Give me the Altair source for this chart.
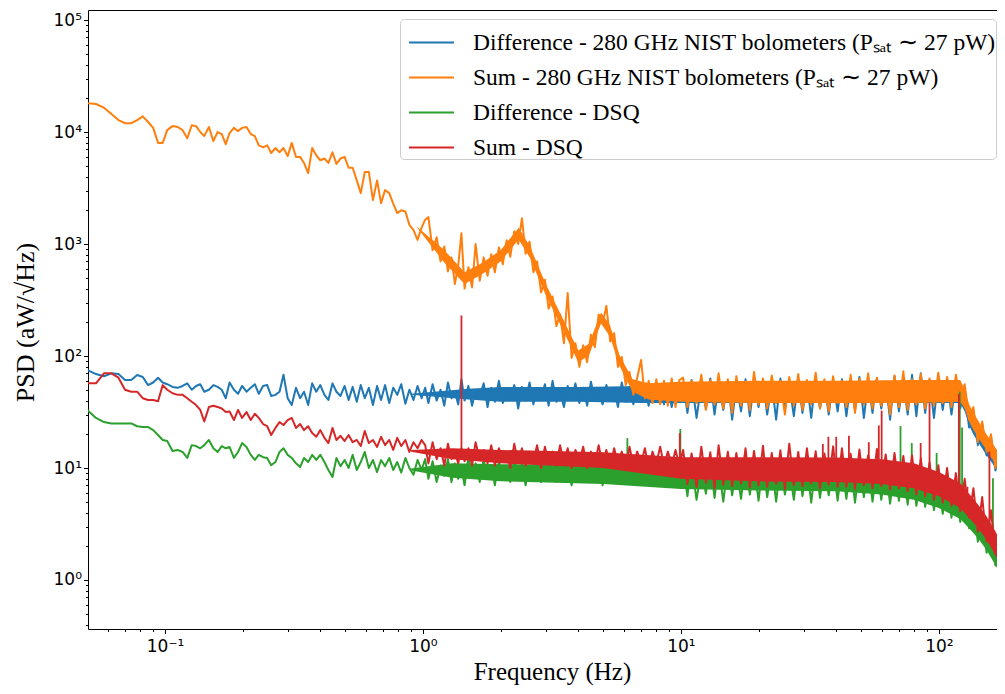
import altair as alt
import pandas as pd

SERIES = [
    "Difference - 280 GHz NIST bolometers (Pₛₐₜ ∼ 27 pW)",
    "Sum - 280 GHz NIST bolometers (Pₛₐₜ ∼ 27 pW)",
    "Difference - DSQ",
    "Sum - DSQ",
]
COLORS = ["#1f77b4", "#ff7f0e", "#2ca02c", "#d62728"]

# ---- frequency grid (Hz) ----
FREQ_LOW = [0.050, 0.054, 0.058, 0.062, 0.066, 0.070, 0.074, 0.078, 0.082, 0.086,
            0.090, 0.094, 0.098, 0.102, 0.107, 0.112, 0.117, 0.122, 0.127, 0.132,
            0.137, 0.142, 0.148, 0.154, 0.160, 0.166, 0.172, 0.178, 0.185, 0.192,
            0.199, 0.207, 0.215, 0.223, 0.231, 0.240, 0.249, 0.258, 0.268, 0.278,
            0.288, 0.299, 0.310, 0.322, 0.334, 0.346, 0.359, 0.372, 0.386, 0.400,
            0.415, 0.430, 0.446, 0.462, 0.479, 0.497, 0.515, 0.534, 0.554, 0.574,
            0.595, 0.617, 0.640, 0.664, 0.688, 0.713, 0.740, 0.767, 0.795, 0.824,
            0.855, 0.886, 0.919, 0.953, 0.988]
FREQ_MID = [1.02, 1.05, 1.09, 1.13, 1.17, 1.21, 1.25, 1.29, 1.33, 1.37,
            1.41, 1.45, 1.50, 1.55, 1.60, 1.66, 1.72, 1.78, 1.84, 1.90,
            1.97, 2.04, 2.11, 2.18, 2.26, 2.34, 2.42, 2.50, 2.59, 2.68,
            2.77, 2.87, 2.97, 3.07, 3.18, 3.29, 3.40, 3.52, 3.64, 3.77,
            3.90, 4.04, 4.18, 4.33, 4.48, 4.64, 4.80, 4.97, 5.14, 5.32,
            5.51, 5.70, 5.90, 6.11, 6.32, 6.54, 6.77, 7.01, 7.25, 7.50,
            7.76, 8.03, 8.31, 8.60, 8.90, 9.21, 9.53, 9.86]
FREQ_HIGH = [10.2, 10.6, 11.0, 11.5, 12.0, 12.5, 13.0, 13.5, 14.0, 14.6, 15.2, 15.8,
             16.4, 17.1, 17.8, 18.5, 19.2, 20.0,
             20.8, 21.6, 22.5, 23.4, 24.3, 25.3, 26.3, 27.4, 28.5, 29.6, 30.8, 32.0,
             33.3, 34.6, 36.0, 37.4, 38.9, 40.5,
             42.1, 43.8, 45.5, 47.3, 49.2, 51.2, 53.2, 55.3, 57.5, 59.8, 62.2, 64.7,
             67.3, 70.0, 72.8, 75.7, 78.7, 81.8,
             85.1, 88.5, 92.0, 95.7, 99.5, 103.5, 107.6, 111.9, 116.4, 121.0,
             125.9, 130.9, 136.1, 141.6, 147.2, 153.1, 159.2, 165.6, 172.2, 179.1]

# ---- Difference - NIST (blue) ----
DIFF_NIST_LOW = [75, 69, 66, 70, 69, 61, 61, 67.6, 65, 55,
                 58, 64, 58, 56, 53, 52, 54, 57, 50, 54,
                 56, 48, 50, 55, 53, 50, 42, 58, 50, 46,
                 54, 48, 52, 56, 46, 54, 55, 44, 45, 48,
                 68, 42, 36.5, 52, 42, 48, 36.5, 57, 48, 55,
                 45, 40.5, 57, 48, 44, 54, 40.5, 53, 39, 55,
                 42, 52, 36.5, 54, 40.5, 55, 38, 52, 45, 56,
                 37.5, 50, 40.5, 54, 42]
DIFF_NIST_MID = [52, 38, 56, 40, 50, 36, 58, 42, 48, 37,
                 62, 40, 54, 36, 50, 44, 57, 35, 52, 39,
                 60, 38, 49, 41, 55, 34, 53, 40, 58, 37,
                 51, 43, 56, 36, 60, 39, 48, 35, 54, 41,
                 57, 38, 52, 36, 59, 40, 47, 37, 55, 42,
                 51, 35, 58, 39, 53, 37, 56, 41, 50, 36,
                 54, 39, 52, 37, 56, 35, 50, 40]
DIFF_NIST_HIGH = [58, 31, 61, 28, 56, 34, 63, 30, 57, 33, 60, 27, 55, 32, 62, 29, 58, 35,
                  60, 30, 57, 27, 63, 33, 56, 29, 61, 31, 58, 28, 64, 34, 57, 30, 60, 32,
                  62, 29, 57, 33, 65, 28, 59, 31, 63, 34, 58, 27, 66, 32, 60, 30, 68, 29,
                  70, 31, 61, 28, 64, 33, 62, 30, 60, 34,
                  52, 23, 33, 16, 25, 13, 19, 9.5, 14, 7]

# ---- Sum - NIST (orange) ----
SUM_NIST_LOW = [18100, 17800, 16500, 14500, 12800, 12000, 12000, 12800, 13800, 12300,
                10900, 8000, 8000, 10400, 11300, 11100, 10400, 8800, 11500, 11300,
                10000, 9200, 11100, 8300, 10000, 9600, 7800, 9800, 10900, 10200,
                10900, 11100, 9600, 9200, 7600, 7300, 7600, 6500, 7200, 6600,
                7200, 6100, 8000, 5980, 6000, 5300, 4300, 7200, 6200, 5600,
                5800, 5300, 6600, 5200, 5800, 6000, 4800, 4800, 3700, 2850,
                4400, 4400, 2470, 3700, 2320, 3030, 2850, 2300, 1890, 2000,
                1950, 1480, 1330, 1090, 1400]
SUM_NIST_MID = [1650, 1740, 880, 1150, 700, 950, 570, 760, 440, 640,
                1250, 400, 620, 410, 1000, 470, 760, 520, 810, 560,
                930, 660, 1080, 770, 1300, 1000, 1700, 820, 1050, 560,
                700, 370, 480, 265, 340, 185, 235, 130, 365, 96,
                130, 80, 125, 88, 155, 120, 235, 195, 280, 135,
                160, 80, 98, 55, 72, 45, 64, 92, 42, 60,
                38, 62, 37, 60, 36, 63, 35, 61]
SUM_NIST_HIGH = [64, 35, 60, 38, 68, 33, 61, 37, 70, 34, 62, 31, 66, 36, 59, 33, 72, 37,
                 63, 34, 67, 38, 60, 30, 65, 36, 69, 33, 61, 37, 71, 34, 62, 32, 66, 38,
                 60, 35, 68, 31, 63, 37, 70, 34, 64, 36, 59, 30, 67, 35, 73, 33, 62, 37,
                 69, 34, 63, 36, 71, 38, 65, 35, 68, 39,
                 56, 27, 35, 17, 26, 14, 20, 10, 15, 7.5]

# ---- Difference - DSQ (green) ----
DIFF_DSQ_LOW = [33, 28, 25.7, 25, 25, 25, 25, 23.6, 23.2, 23.2,
                21.8, 19.7, 17.8, 17.4, 14.2, 14.5, 13.9, 12.3, 16, 15.7,
                15, 16, 17.8, 15, 13.9, 15.7, 15, 15.4, 12.3, 13.9,
                16.7, 15.4, 13.1, 11.8, 13.1, 12.5, 12.3, 10.6, 11.3, 13.9,
                15, 13.1, 12.3, 11, 10.2, 12.3, 11.3, 13.1, 11.8, 13.1,
                11.3, 9.6, 8.3, 12.3, 10.4, 11.8, 10, 13.1, 9.6, 11.3,
                13.9, 10, 11.8, 9.2, 11.8, 10.4, 12.3, 9.6, 11.3, 9.1,
                12.3, 10, 8.7, 11.8, 9.6]
DIFF_DSQ_MID = [12, 8, 11.5, 7.5, 10.5, 8.5, 12, 7.5, 11, 8,
                10, 7, 12.5, 8.5, 11, 7.5, 12, 8, 10.5, 7,
                11.5, 8.5, 10, 7.5, 12, 8, 11, 7, 10.5, 8.5,
                12, 7.5, 11, 8, 10.5, 7.5, 11.5, 8, 10, 7,
                12, 8.5, 11, 7.5, 10.5, 8, 11.5, 7, 10.5, 8,
                11, 7.5, 10, 7.5, 11.5, 7.5, 11, 8, 10.5, 7,
                11.5, 8, 10, 7.5, 11, 8, 10.5, 7.5]
DIFF_DSQ_HIGH = [10.5, 5.6, 11, 5.2, 10, 5.9, 11.5, 5.4, 10.4, 5, 10.8, 5.7, 10.2, 5.3, 11.2, 5.8, 10.6, 5.1,
                 11, 5.5, 10.3, 5, 10.9, 5.8, 10.1, 5.2, 11.3, 5.6, 10.5, 4.9, 10.8, 5.4, 10.2, 5.7, 11, 5.1,
                 10.4, 5.3, 10.8, 4.9, 10.1, 5.5, 10.6, 5, 9.9, 5.2, 10.2, 4.8, 9.8, 5.1, 9.5, 4.7, 9.6, 4.6,
                 9, 4.5, 8.6, 4.2, 8.2, 3.9, 7.6, 3.6, 7, 3.3,
                 6, 2.9, 4.8, 2.2, 3.9, 1.75, 2.9, 1.35, 2, 0.85]

# ---- Sum - DSQ (red) ----
SUM_DSQ_LOW = [57, 57, 70, 70, 64, 50, 48, 48, 42, 40.5,
               40.5, 39.5, 55, 50, 46.5, 45, 45, 42, 39, 36.5,
               33, 26, 35, 36, 35, 34, 31.6, 32, 26.8, 33,
               28, 31.6, 26.8, 30.5, 28, 24.7, 23.6, 19.7, 22.8, 25.7,
               24.2, 26.8, 28, 22.8, 24.7, 21.8, 23.6, 20.5, 19, 21.8,
               18.6, 16.7, 22.8, 17.8, 19.4, 17.4, 19.7, 17, 17.8, 15.7,
               21.4, 16.7, 17.8, 15.4, 19, 16, 17.8, 14.5, 18.6, 15.7,
               17.8, 13.9, 17, 15, 17.8]
SUM_DSQ_MID = [16, 11, 17, 12, 15, 10.5, 16.5, 12, 14, 11,
               15, 11.5, 15, 10.5, 17, 12, 14.5, 11, 16, 10.5,
               15, 12, 14, 10, 16.5, 11, 15, 10.5, 14, 11.5,
               16, 10, 15.5, 11, 14, 10.5, 16, 11, 15, 10,
               14.5, 11.5, 15.5, 10, 14, 11, 16, 10.5, 14.5, 10,
               15, 11, 14, 10, 15.5, 10.5, 14, 11, 15, 10,
               14, 11, 15.5, 10.5, 14, 10.5, 14.5, 10.5]
SUM_DSQ_HIGH = [14.5, 7.2, 13.5, 6.8, 15.5, 7.4, 13.8, 6.6, 16, 7.1, 14, 6.9, 13.6, 7.3, 15, 6.7, 14.2, 7,
                15.8, 6.8, 13.6, 7.2, 14.4, 6.5, 16.5, 7, 13.9, 6.9, 15, 7.3, 14.1, 6.6, 13.5, 7.1, 15.6, 6.8,
                15, 6.8, 13.4, 6.5, 14.6, 7, 13, 6.6, 14.8, 6.9, 13.2, 6.4, 13.6, 6.6, 12.8, 6.2, 13, 5.8,
                12.2, 5.6, 11.2, 5.2, 10.6, 4.9, 10, 4.6, 9, 4.1,
                8, 3.6, 6.6, 2.7, 5.5, 2.2, 4.2, 1.7, 3, 1.0]

# ---- dense-noise cores (lower / upper envelope) ----
BAND_BLUE_F = [0.9, 1.5, 2.0, 4.0, 7.0, 10, 20, 40, 80, 121, 126, 131, 136, 142, 147, 153, 159, 166, 172]
BAND_BLUE_LO = [45, 41, 39, 39, 38, 38, 38, 38, 38, 38, 32, 24, 20, 17, 15, 13, 11.5, 10, 9]
BAND_BLUE_HI = [46, 51, 53, 53, 54, 57, 58, 58, 59, 59, 48, 35, 30, 25.5, 22, 19, 17, 15, 13]
BAND_ORANGE_F = [0.95, 1.2, 1.45, 1.7, 2.0, 2.35, 2.6, 3.0, 3.5, 4.0, 4.4, 4.9, 5.3, 5.8, 6.5, 7.5,
                 10, 20, 40, 80, 121, 126, 131, 136, 142, 147, 153, 159, 166, 172]
BAND_ORANGE_LO = [1400, 700, 440, 540, 700, 1100, 750, 345, 168, 88, 101, 195, 150, 80, 48, 41,
                  39, 38, 38, 38, 39, 34, 26, 22, 19, 16.5, 14.5, 12.5, 11, 9.5]
BAND_ORANGE_HI = [1420, 900, 560, 680, 880, 1400, 950, 435, 212, 112, 129, 245, 190, 100, 62, 57,
                  59, 60, 60, 61, 61, 50, 37, 31, 26.5, 23, 20, 17.5, 15, 13.5]
BAND_GREEN_F = [0.9, 1.3, 2.0, 5.0, 10, 20, 40, 60, 80, 100, 121, 131, 142, 153, 166, 179]
BAND_GREEN_LO = [9.5, 8.2, 7.6, 7.2, 6.5, 6.3, 6.2, 5.8, 5.2, 4.4, 3.5, 2.9, 2.35, 1.85, 1.35, 0.95]
BAND_GREEN_HI = [9.9, 11, 10.8, 10.6, 10, 10, 10, 9.4, 8.5, 7.4, 5.8, 4.7, 3.8, 3, 2.1, 1.5]
BAND_RED_F = [0.9, 1.3, 2.0, 5.0, 10, 20, 40, 60, 80, 100, 121, 131, 142, 153, 166, 179]
BAND_RED_LO = [14, 12, 11, 10, 8, 7.6, 7.5, 7.2, 6.6, 5.6, 4.4, 3.6, 2.9, 2.3, 1.65, 1.15]
BAND_RED_HI = [14.5, 15, 14.5, 13.8, 12.5, 12.5, 12.4, 12, 11, 9.2, 7.3, 5.9, 4.7, 3.7, 2.7, 1.9]

# ---- narrow spectral lines ----
SPIKE_GREEN_F = [6.2, 9.95, 51.0, 71.0, 78.5, 98.0, 120.5, 123.0, 162.0]
SPIKE_GREEN_BASE = [9, 9, 8.5, 7.5, 7, 5.8, 4.5, 4.3, 1.7]
SPIKE_GREEN_TOP = [18.5, 22.3, 12, 23.7, 16.7, 13.6, 48, 23, 8.1]
SPIKE_RED_F = [1.41, 9.9, 35.5, 37.3, 40.0, 44.8, 53.5, 58.5, 60.0, 85.0, 92.0, 119.5, 129.0, 157.0]
SPIKE_RED_BASE = [12, 11, 10.5, 10.5, 10.5, 10.5, 10, 10, 9.8, 8, 7.5, 5.5, 4.5, 2.5]
SPIKE_RED_TOP = [230, 20.5, 16.4, 19, 19, 19.4, 17, 24, 32.5, 16.7, 38, 46, 6.8, 14]

X_TICKS = [0.06, 0.07, 0.08, 0.09, 0.1, 0.2, 0.3, 0.4, 0.5, 0.6, 0.7, 0.8, 0.9,
           1, 2, 3, 4, 5, 6, 7, 8, 9, 10, 20, 30, 40, 50, 60, 70, 80, 90, 100]
Y_TICKS = [0.4, 0.5, 0.6, 0.7, 0.8, 0.9, 1, 2, 3, 4, 5, 6, 7, 8, 9,
           10, 20, 30, 40, 50, 60, 70, 80, 90,
           100, 200, 300, 400, 500, 600, 700, 800, 900,
           1000, 2000, 3000, 4000, 5000, 6000, 7000, 8000, 9000,
           10000, 20000, 30000, 40000, 50000, 60000, 70000, 80000, 90000, 100000]
X_DOMAIN = [0.0503, 168]
Y_DOMAIN = [0.365, 123000]

FREQ = FREQ_LOW + FREQ_MID + FREQ_HIGH
LINES = [
    DIFF_NIST_LOW + DIFF_NIST_MID + DIFF_NIST_HIGH,
    SUM_NIST_LOW + SUM_NIST_MID + SUM_NIST_HIGH,
    DIFF_DSQ_LOW + DIFF_DSQ_MID + DIFF_DSQ_HIGH,
    SUM_DSQ_LOW + SUM_DSQ_MID + SUM_DSQ_HIGH,
]
BANDS = [
    (BAND_BLUE_F, BAND_BLUE_LO, BAND_BLUE_HI),
    (BAND_ORANGE_F, BAND_ORANGE_LO, BAND_ORANGE_HI),
    (BAND_GREEN_F, BAND_GREEN_LO, BAND_GREEN_HI),
    (BAND_RED_F, BAND_RED_LO, BAND_RED_HI),
]
SPIKES = [None, None,
          (SPIKE_GREEN_F, SPIKE_GREEN_BASE, SPIKE_GREEN_TOP),
          (SPIKE_RED_F, SPIKE_RED_BASE, SPIKE_RED_TOP)]

xs = alt.Scale(type="log", domain=X_DOMAIN, nice=False, zero=False)
ys = alt.Scale(type="log", domain=Y_DOMAIN, nice=False, zero=False)

x_label = ("datum.value == 0.1 ? '10⁻¹' : datum.value == 1 ? '10⁰' : "
           "datum.value == 10 ? '10¹' : datum.value == 100 ? '10²' : ''")
y_label = ("datum.value == 1 ? '10⁰' : datum.value == 10 ? '10¹' : "
           "datum.value == 100 ? '10²' : datum.value == 1000 ? '10³' : "
           "datum.value == 10000 ? '10⁴' : datum.value == 100000 ? '10⁵' : ''")

x_axis = alt.Axis(
    values=X_TICKS, labelExpr=x_label, grid=False,
    tickSize={"condition": {"test": "indexof([0.1, 1, 10, 100], datum.value) >= 0", "value": 4.5}, "value": 2.5},
    tickColor="black", tickWidth=1, domainColor="black", domainWidth=1,
    labelFont="DejaVu Sans", labelFontSize=17, labelColor="black", labelPadding=5,
    labelFlush=False, labelOverlap=False, labelBound=False,
    titleFont="Liberation Serif", titleFontSize=25, titleFontWeight="normal", titleColor="black",
    titleX=464, titleY=42, titleBaseline="middle", titleAlign="center",
)
y_axis = alt.Axis(
    values=Y_TICKS, labelExpr=y_label, grid=False,
    tickSize={"condition": {"test": "indexof([1, 10, 100, 1000, 10000, 100000], datum.value) >= 0", "value": 4.5}, "value": 2.5},
    tickColor="black", tickWidth=1, domainColor="black", domainWidth=1,
    labelFont="DejaVu Sans", labelFontSize=17, labelColor="black", labelPadding=2,
    labelFlush=False, labelOverlap=False, labelBound=False,
    titleFont="Liberation Serif", titleFontSize=26, titleFontWeight="normal", titleColor="black",
    titleX=-63, titleY=312, titleBaseline="middle", titleAlign="center", titleAngle=-90,
)

legend = alt.Legend(
    title=None, orient="none", legendX=312, legendY=9, symbolType="stroke", symbolSize=2025,
    symbolStrokeWidth=2, symbolOffset=8, labelFont="Liberation Serif", labelFontSize=23.5,
    labelColor="black", labelLimit=800, labelOffset=18, rowPadding=-4.3, padding=0,
    fillColor="rgba(255,255,255,0.8)", strokeColor="#cccccc", cornerRadius=4,
)


def X(field="f"):
    return alt.X(f"{field}:Q", scale=xs, axis=x_axis, title="Frequency (Hz)")


def Y(field):
    return alt.Y(f"{field}:Q", scale=ys, axis=y_axis, title="PSD (aW/√Hz)")


layers = []
for i, name in enumerate(SERIES):
    bf, blo, bhi = BANDS[i]
    band_df = pd.DataFrame({"f": bf, "lo": blo, "hi": bhi})
    layers.append(
        alt.Chart(band_df).mark_area(color=COLORS[i], clip=True, opacity=1)
        .encode(x=X(), y=Y("lo"), y2="hi:Q")
    )
    line_df = pd.DataFrame({"f": FREQ, "v": LINES[i], "series": name})
    layers.append(
        alt.Chart(line_df).mark_line(strokeWidth=2, clip=True, strokeJoin="round")
        .encode(x=X(), y=Y("v"),
                color=alt.Color("series:N", scale=alt.Scale(domain=SERIES, range=COLORS), legend=legend))
    )
    if SPIKES[i] is not None:
        sf, sb, st = SPIKES[i]
        sp_df = pd.DataFrame({"f": sf, "lo": sb, "hi": st})
        layers.append(
            alt.Chart(sp_df).mark_rule(color=COLORS[i], strokeWidth=1.8, clip=True)
            .encode(x=X(), y=Y("lo"), y2="hi:Q")
        )

top_df = pd.DataFrame({"f": X_DOMAIN, "v": [1, 1]})
top_frame = alt.Chart(top_df).mark_point(opacity=0).encode(
    x=alt.X("f:Q", scale=xs, title=None,
            axis=alt.Axis(orient="top", labels=False, ticks=False, domain=True,
                          domainColor="black", domainWidth=1, grid=False, title=None)),
    y=Y("v"),
)

chart = (
    alt.layer(alt.layer(*layers), top_frame)
    .resolve_axis(x="independent")
    .properties(width=909, height=619,
                autosize=alt.AutoSizeParams(type="none"),
                padding={"left": 80, "top": 2, "right": 0, "bottom": 57})
    .configure_view(stroke=None)
)

chart.save("out.html", embed_options={"renderer": "svg", "actions": False})
